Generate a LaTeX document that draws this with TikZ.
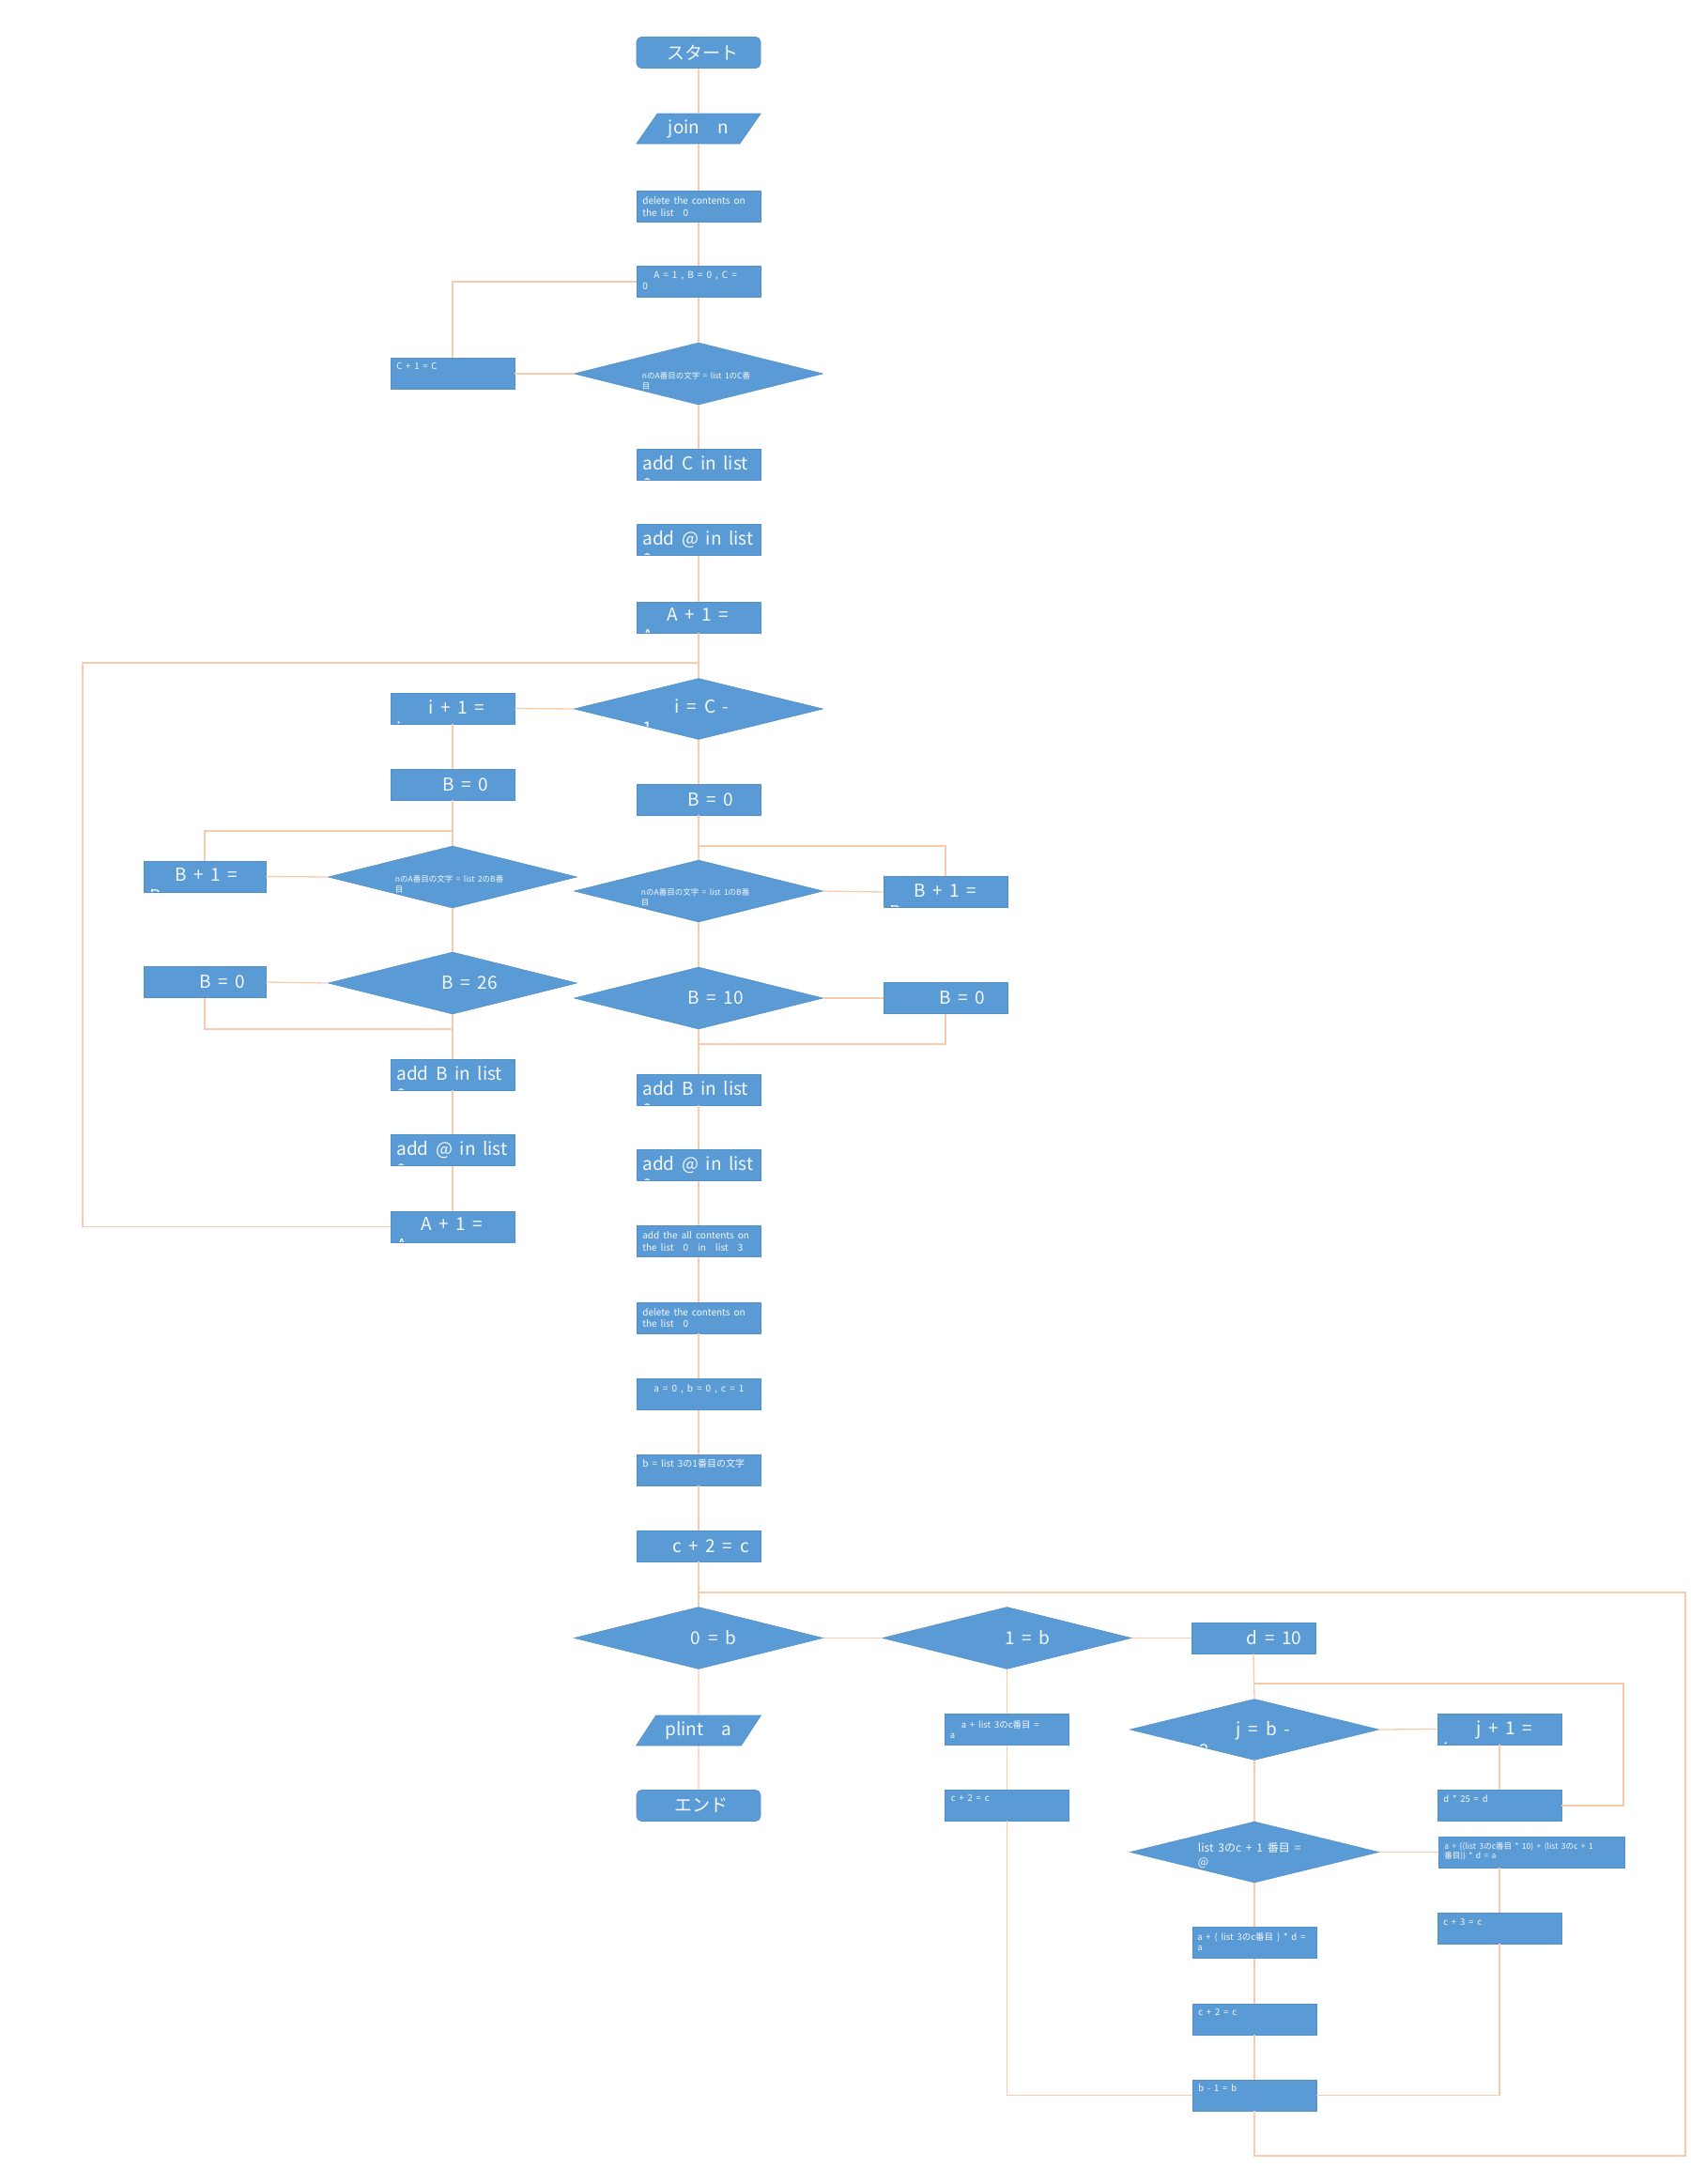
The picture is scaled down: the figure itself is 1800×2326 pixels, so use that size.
\documentclass[tikz,border=0pt]{standalone}
\usepackage{fontspec}
\usetikzlibrary{shapes.geometric, calc}
\newfontfamily\jpfont[WordSpace=1.8]{Noto Sans CJK JP}
\newcommand{\bigsz}{\fontsize{19}{23}\selectfont}
\newcommand{\midsz}{\fontsize{12}{15}\selectfont}
\newcommand{\smallsz}{\fontsize{10}{12.5}\selectfont}
\newcommand{\tinysz}{\fontsize{8.5}{10.5}\selectfont}
\newcommand{\formsz}{\fontsize{9.5}{11}\selectfont}
\definecolor{boxblue}{HTML}{5B9BD5}
\definecolor{boxedge}{HTML}{5290CB}
\definecolor{linkpeach}{HTML}{F8CBAD}
\definecolor{linkorange}{HTML}{F4B183}
\colorlet{boxtext}{white!93!boxblue}

\begin{document}
\begin{tikzpicture}[
    x=1pt, y=-1pt,
    font=\jpfont,
    procbox/.style={rectangle, fill=boxblue, draw=boxedge, line width=0.6pt,
                    minimum width=132pt, minimum height=33pt, inner sep=0pt,
                    text=boxtext, font=\jpfont\bigsz},
    termbox/.style={procbox, rounded corners=5pt},
    iobox/.style={trapezium, trapezium left angle=50, trapezium right angle=130,
                  trapezium stretches=true, fill=boxblue, draw=boxedge,
                  line width=0.6pt, minimum width=133pt, minimum height=32pt,
                  inner sep=0pt, text=boxtext, font=\jpfont\bigsz},
    decision/.style={diamond, shape aspect=4, fill=boxblue, draw=boxedge,
                     line width=0.6pt, minimum width=265pt, minimum height=66pt,
                     inner sep=0pt, text=boxtext, font=\jpfont\bigsz},
    cliptxt/.style n args={3}{path picture={
        \node[shape=rectangle, draw=none, fill=none, minimum width=0pt,
              minimum height=0pt, anchor=north west, inner sep=0pt, align=left,
              text=boxtext, font=\jpfont#2]
            at ([shift={(#1)}]path picture bounding box.north west) {#3};}},
    link/.style={draw=linkpeach, line width=1.3pt},
    linkhot/.style={draw=linkorange, line width=1.3pt},
]

\def\xm{744}
\def\xl{482}
\def\xf{218}
\def\xr{1007}

\useasboundingbox (0,0) rectangle (1800,2326);

% ════════════════════════════════════════════════════════════
% TOP: read n, scan list 1
% ════════════════════════════════════════════════════════════
\node[termbox] (start) at (\xm,56) {\hspace*{8pt}スタート};
\node[iobox] (join) at (\xm,137) {join　n};
\node[procbox, cliptxt={6pt,-6pt}{\smallsz}{delete the contents on\\the list　0}]
    (del1) at (\xm,220) {};
\node[procbox, cliptxt={6pt,-5pt}{\smallsz}{\hspace*{12pt}A = 1 , B = 0 , C =\\0}]
    (init1) at (\xm,300) {};
\node[decision, cliptxt={72pt,-31pt}{\tinysz}{nのA番目の文字 = list 1のC番\\目}]
    (cmpC) at (\xm,398) {};
\node[procbox, cliptxt={6pt,-5pt}{\formsz}{C + 1 = C}] (incC) at (\xl,398) {};
\node[procbox, cliptxt={6pt,-7pt}{\bigsz}{add C in list\\0}] (addC) at (\xm,494.5) {};
\node[procbox, cliptxt={6pt,-7pt}{\bigsz}{add @ in list\\0}] (addAtA) at (\xm,575) {};
\node[procbox, cliptxt={6pt,-6pt}{\bigsz}{\hspace*{26pt}A + 1 =\\A}] (incA) at (\xm,657.5) {};

% ════════════════════════════════════════════════════════════
% MIDDLE: loop over i, two counters
% ════════════════════════════════════════════════════════════
\node[decision, minimum height=65pt, cliptxt={73pt,-22pt}{\bigsz}{\hspace*{34pt}i = C -\\1}]
    (loopI) at (\xm,755) {};
\node[procbox, cliptxt={6pt,-7pt}{\bigsz}{\hspace*{34pt}i + 1 =\\i}] (incI) at (\xl,754.5) {};

% ── left branch (list 2) ──
\node[procbox] (resetBL) at (\xl,835.5) {\hspace*{28pt}B = 0};
\node[decision, cliptxt={71pt,-31pt}{\tinysz}{nのA番目の文字 = list 2のB番\\目}]
    (cmpL2) at (\xl,934) {};
\node[procbox, minimum width=130pt, cliptxt={6pt,-7pt}{\bigsz}{\hspace*{27pt}B + 1 =\\B}]
    (incBL) at (\xf,933.5) {};
\node[decision] (chk26) at (\xl,1047) {\hspace*{36pt}B = 26};
\node[procbox, minimum width=130pt] (zeroBL) at (\xf,1046) {\hspace*{38pt}B = 0};
\node[procbox, cliptxt={6pt,-7pt}{\bigsz}{add B in list\\0}] (addBL) at (\xl,1144.5) {};
\node[procbox, cliptxt={6pt,-7pt}{\bigsz}{add @ in list\\0}] (addAtL) at (\xl,1225) {};
\node[procbox, cliptxt={6pt,-6pt}{\bigsz}{\hspace*{26pt}A + 1 =\\A}] (incAL) at (\xl,1306.5) {};

% ── centre branch (list 1) ──
\node[procbox] (resetBM) at (\xm,851.5) {\hspace*{26pt}B = 0};
\node[decision, cliptxt={71pt,-30pt}{\tinysz}{nのA番目の文字 = list 1のB番\\目}]
    (cmpL1) at (\xm,949) {};
\node[procbox, cliptxt={6pt,-8pt}{\bigsz}{\hspace*{26pt}B + 1 =\\B}] (incBR) at (\xr,950) {};
\node[decision] (chk10) at (\xm,1063) {\hspace*{36pt}B = 10};
\node[procbox] (zeroBR) at (\xr,1063) {\hspace*{36pt}B = 0};
\node[procbox, cliptxt={6pt,-7pt}{\bigsz}{add B in list\\0}] (addBM) at (\xm,1160.5) {};
\node[procbox, cliptxt={6pt,-7pt}{\bigsz}{add @ in list\\0}] (addAtM) at (\xm,1241) {};
\node[procbox, cliptxt={6pt,-6pt}{\smallsz}{add the all contents on\\the list　0　in　list　3}]
    (copyL) at (\xm,1322) {};
\node[procbox, cliptxt={6pt,-6pt}{\smallsz}{delete the contents on\\the list　0}]
    (del2) at (\xm,1403.5) {};
\node[procbox, cliptxt={6pt,-6pt}{\smallsz}{\hspace*{12pt}a = 0 , b = 0 , c = 1}]
    (init2) at (\xm,1485) {};
\node[procbox, cliptxt={6pt,-5pt}{\smallsz}{b = list 3の1番目の文字}] (readB) at (\xm,1565.5) {};
\node[procbox] (incC2) at (\xm,1646.5) {\hspace*{26pt}c + 2 = c};

% ════════════════════════════════════════════════════════════
% BOTTOM: decode list 3
% ════════════════════════════════════════════════════════════
\node[decision] (isZero) at (\xm,1744.5) {\hspace*{32pt}0 = b};
\node[decision] (isOne) at (1072.5,1744.5) {\hspace*{44pt}1 = b};
\node[procbox] (setD) at (1335,1744.5) {\hspace*{44pt}d = 10};
\node[iobox] (print) at (\xm,1843) {plint　a};
\node[termbox] (finish) at (\xm,1923) {\hspace*{6pt}エンド};
\node[procbox, cliptxt={5pt,-7pt}{\formsz}{\hspace*{12pt}a + list 3のc番目 =\\a}]
    (addOne) at (1072.5,1842) {};
\node[procbox, cliptxt={6pt,-5pt}{\formsz}{c + 2 = c}] (incC3) at (1072.5,1922.5) {};
\node[decision, minimum height=65pt, cliptxt={74pt,-23pt}{\bigsz}{\hspace*{39pt}j = b -\\2}]
    (loopJ) at (1336,1842) {};
\node[procbox, cliptxt={6pt,-7pt}{\bigsz}{\hspace*{35pt}j + 1 =\\j}] (incJ) at (1597,1841.5) {};
\node[procbox, cliptxt={6pt,-5pt}{\formsz}{d * 25 = d}] (mulD) at (1597,1923) {};
\node[decision, minimum height=65pt, cliptxt={72pt,-22pt}{\midsz}{list 3のc + 1 番目 =\\@}]
    (isAt) at (1336,1972.5) {};
\node[procbox, minimum width=198pt,
      cliptxt={6pt,-6pt}{\tinysz}{a + \{(list 3のc番目 * 10) + (list 3のc + 1\\番目)\} * d = a}]
    (addTwo) at (1631,1972.5) {};
\node[procbox, cliptxt={6pt,-6pt}{\formsz}{c + 3 = c}] (incC4) at (1597,2053.5) {};
\node[procbox, cliptxt={5pt,-6pt}{\formsz}{a + ( list 3のc番目 ) * d =\\a}]
    (addOneD) at (1336,2069) {};
\node[procbox, cliptxt={6pt,-5pt}{\formsz}{c + 2 = c}] (incC5) at (1336,2150.5) {};
\node[procbox, cliptxt={6pt,-5pt}{\formsz}{b - 1 = b}] (decB) at (1336,2231.5) {};

% ── corner points of the connectors ──
\coordinate (loopcorner) at (88,706);
\coordinate (loopjoin) at (\xm,706);
\coordinate (jL2) at (\xl,885);
\coordinate (j26) at (\xl,1096);
\coordinate (jL1) at (\xm,901);
\coordinate (j10) at (\xm,1112);
\coordinate (topJoin) at (\xm,1696);
\coordinate (rBottom) at (1795,2296);
\coordinate (jJoin) at (1336,1793);
\coordinate (jRight) at (1729,1793);

% ── connectors ──
\draw[linkhot] (start.south) -- (join.north);
\draw[linkhot] (join.south) -- (del1.north);
\draw[link] (del1.south) -- (init1.north);
\draw[link] (init1.south) -- (cmpC.north);
\draw[link] (init1.west) -| (incC.north);
\draw[link] (incC.east) -- (cmpC.west);
\draw[link] (cmpC.south) -- (addC.north);
\draw[link] (addAtA.south) -- (incA.north);
\draw[link] (incA.south) -- (loopI.north);
\draw[link] (incAL.west) -| (loopcorner) -- (loopjoin);

\draw[link] (loopI.west) -- (incI.east);
\draw[link] (incI.south) -- (resetBL.north);
\draw[link] (resetBL.south) -- (cmpL2.north);
\draw[link] (incBL.north) |- (jL2);
\draw[link] (incBL.east) -- (cmpL2.west);
\draw[link] (cmpL2.south) -- (chk26.north);
\draw[link] (chk26.west) -- (zeroBL.east);
\draw[link] (zeroBL.south) |- (j26);
\draw[link] (chk26.south) -- (addBL.north);
\draw[link] (addBL.south) -- (addAtL.north);
\draw[link] (addAtL.south) -- (incAL.north);

\draw[link] (loopI.south) -- (resetBM.north);
\draw[link] (resetBM.south) -- (cmpL1.north);
\draw[link] (incBR.north) |- (jL1);
\draw[link] (cmpL1.east) -- (incBR.west);
\draw[link] (cmpL1.south) -- (chk10.north);
\draw[link] (chk10.east) -- (zeroBR.west);
\draw[link] (zeroBR.south) |- (j10);
\draw[link] (chk10.south) -- (addBM.north);
\foreach \a/\b in {addBM/addAtM, addAtM/copyL, copyL/del2, del2/init2,
                   init2/readB, readB/incC2, incC2/isZero}
    \draw[link] (\a.south) -- (\b.north);

\draw[link] (isZero.south) -- (print.north);
\draw[link] (print.south) -- (finish.north);
\draw[link] (isZero.east) -- (isOne.west);
\draw[link] (isOne.east) -- (setD.west);
\draw[link] (isOne.south) -- (addOne.north);
\draw[link] (addOne.south) -- (incC3.north);
\draw[link] (incC3.south) |- (decB.west);
\draw[link] (setD.south) -- (loopJ.north);
\draw[link] (mulD.east) -| (jRight) -- (jJoin);
\draw[link] (loopJ.east) -- (incJ.west);
\draw[link] (incJ.south) -- (mulD.north);
\draw[link] (loopJ.south) -- (isAt.north);
\draw[link] (isAt.east) -- (addTwo.west);
\draw[link] (incC4.north) -- (incC4.north |- addTwo.south);
\draw[link] (incC4.south) |- (decB.east);
\draw[link] (isAt.south) -- (addOneD.north);
\draw[link] (addOneD.south) -- (incC5.north);
\draw[link] (incC5.south) -- (decB.north);
\draw[link] (decB.south) |- (rBottom) |- (topJoin);

\end{tikzpicture}
\end{document}
